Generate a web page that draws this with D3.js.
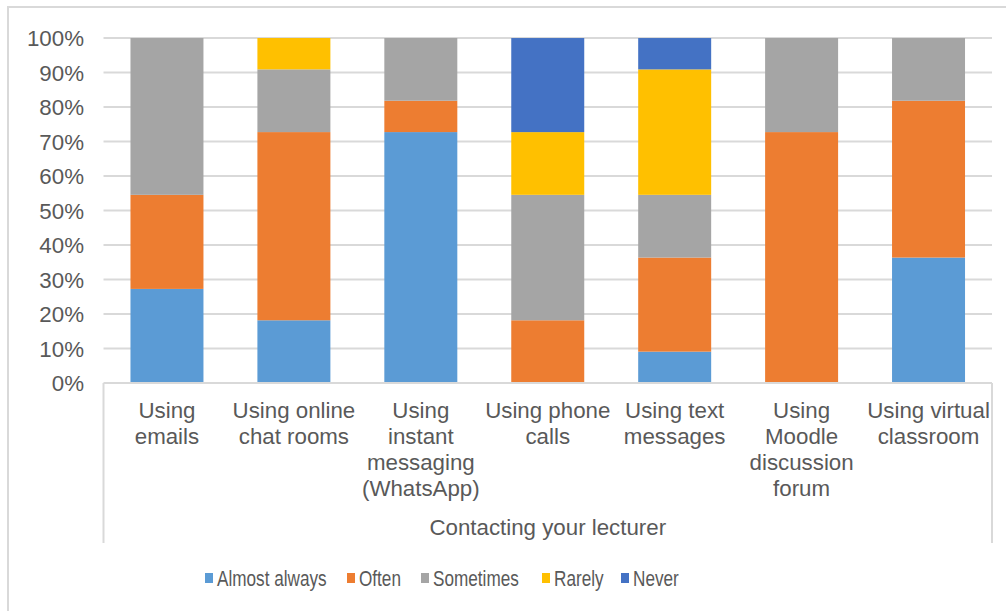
<!DOCTYPE html>
<html>
<head>
<meta charset="utf-8">
<script src="https://cdn.jsdelivr.net/npm/d3@7"></script>
<style>
  html, body { margin: 0; padding: 0; background: #fff; }
  svg { display: block; font-family: "Liberation Sans", Arial, sans-serif; }
</style>
</head>
<body>
<svg id="chart" width="1006" height="611"></svg>
<script>
// Survey responses: how often students contact their lecturer by each channel (share of respondents)
const categories = [
  "Using\nemails",
  "Using online\nchat rooms",
  "Using\ninstant\nmessaging\n(WhatsApp)",
  "Using phone\ncalls",
  "Using text\nmessages",
  "Using\nMoodle\ndiscussion\nforum",
  "Using virtual\nclassroom"
];
const seriesNames = ["Almost always", "Often", "Sometimes", "Rarely", "Never"];
const almostAlways = [27.27, 18.18, 72.73, 0, 9.09, 0, 36.36];
const often        = [27.27, 54.55, 9.09, 18.18, 27.27, 72.73, 45.45];
const sometimes    = [45.45, 18.18, 18.18, 36.36, 18.18, 27.27, 18.18];
const rarely       = [0, 9.09, 0, 18.18, 36.36, 0, 0];
const never        = [0, 0, 0, 27.27, 9.09, 0, 0];
const yTicks = [0, 10, 20, 30, 40, 50, 60, 70, 80, 90, 100];
const groupLabel = "Contacting your lecturer";

const colors = ["#5b9bd5", "#ed7d31", "#a5a5a5", "#ffc000", "#4472c4"];
const seriesValues = [almostAlways, often, sometimes, rarely, never];

const rows = categories.map((c, i) => {
  const r = { category: c };
  seriesNames.forEach((s, k) => { r[s] = seriesValues[k][i]; });
  return r;
});

const svg = d3.select("#chart");
const W = 1006, H = 611;
const plot = { left: 103.5, right: 992, top: 38, bottom: 383 };
const textColor = "#595959";
const lineColor = "#d9d9d9";
const fontSize = 22.3;

// Chart frame
svg.append("rect")
  .attr("x", 8).attr("y", 7)
  .attr("width", W).attr("height", H)
  .attr("fill", "none").attr("stroke", lineColor).attr("stroke-width", 2);

const x = d3.scaleBand()
  .domain(categories)
  .range([plot.left, plot.right])
  .paddingInner(0.425)
  .paddingOuter(0.2125);

const y = d3.scaleLinear().domain([0, 100]).range([plot.bottom, plot.top]);

// Gridlines
svg.append("g")
  .selectAll("line")
  .data(yTicks.filter(t => t > 0))
  .join("line")
  .attr("x1", plot.left).attr("x2", plot.right)
  .attr("y1", d => y(d)).attr("y2", d => y(d))
  .attr("stroke", lineColor).attr("stroke-width", 2);

// Value axis labels
const yAxis = d3.axisLeft(y).tickValues(yTicks).tickFormat(d => d + "%").tickSize(0).tickPadding(0);
const yg = svg.append("g").attr("transform", "translate(84,0)").call(yAxis);
yg.select(".domain").remove();
yg.selectAll("text")
  .attr("fill", textColor)
  .attr("font-size", fontSize)
  .attr("font-family", "'Liberation Sans', Arial, sans-serif")
  .attr("dy", "0.35em");

// Stacked bars
const stack = d3.stack().keys(seriesNames);
const stacked = stack(rows);

svg.append("g")
  .selectAll("g")
  .data(stacked)
  .join("g")
  .attr("fill", (d, i) => colors[i])
  .selectAll("rect")
  .data(d => d)
  .join("rect")
  .attr("x", d => x(d.data.category))
  .attr("width", x.bandwidth())
  .attr("y", d => y(d[1]))
  .attr("height", d => Math.max(0, y(d[0]) - y(d[1])));

// Category axis frame (multi-level)
const axisBottomY = 543;
const frame = svg.append("g").attr("stroke", lineColor).attr("stroke-width", 2).attr("fill", "none");
frame.append("line").attr("x1", plot.left).attr("x2", plot.right).attr("y1", plot.bottom).attr("y2", plot.bottom);
frame.append("line").attr("x1", plot.left).attr("x2", plot.left).attr("y1", plot.bottom).attr("y2", axisBottomY);
frame.append("line").attr("x1", plot.right).attr("x2", plot.right).attr("y1", plot.bottom).attr("y2", axisBottomY);

// Category labels
const catG = svg.append("g")
  .attr("fill", textColor)
  .attr("font-size", fontSize)
  .attr("text-anchor", "middle");
catG.selectAll("text")
  .data(categories)
  .join("text")
  .each(function(d) {
    const t = d3.select(this);
    d.split("\n").forEach((line, i) => {
      t.append("tspan")
        .attr("x", x(d) + x.bandwidth() / 2)
        .attr("y", 410 + i * 26)
        .attr("dy", "0.35em")
        .text(line);
    });
  });

// Group label
svg.append("text")
  .attr("x", (plot.left + plot.right) / 2)
  .attr("y", 527)
  .attr("dy", "0.35em")
  .attr("text-anchor", "middle")
  .attr("fill", textColor)
  .attr("font-size", fontSize)
  .text(groupLabel);

// Legend (condensed lettering)
const legendX = [205, 347, 421, 542, 621];
const legend = svg.append("g")
  .attr("font-size", 22)
  .attr("fill", textColor);
const items = legend.selectAll("g")
  .data(seriesNames)
  .join("g")
  .attr("transform", (d, i) => `translate(${legendX[i]},578)`);
items.append("rect")
  .attr("x", 0).attr("y", -5)
  .attr("width", 8).attr("height", 10)
  .attr("fill", (d, i) => colors[i]);
items.append("text")
  .attr("transform", "translate(12,0) scale(0.78,1)")
  .attr("dy", "0.35em")
  .text(d => d);
</script>
</body>
</html>
